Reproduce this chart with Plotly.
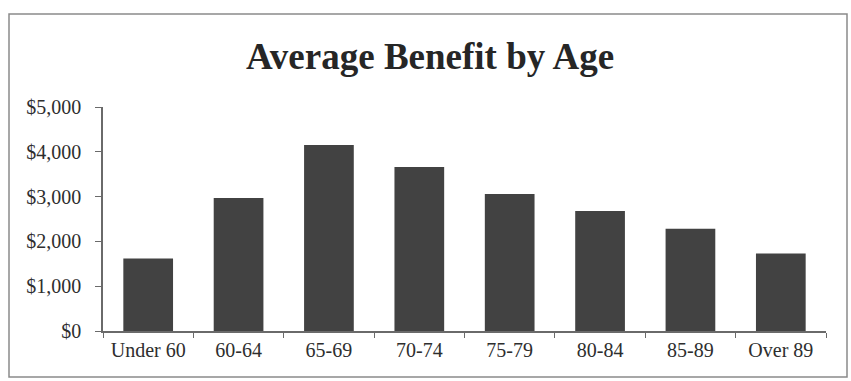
import plotly.graph_objects as go

# Average benefit per age group
age_groups = ["Under 60", "60-64", "65-69", "70-74", "75-79", "80-84", "85-89", "Over 89"]
avg_benefit = [1620, 2970, 4150, 3660, 3060, 2680, 2280, 1730]
y_tick_values = [0, 1000, 2000, 3000, 4000, 5000]
y_tick_labels = ["$0", "$1,000", "$2,000", "$3,000", "$4,000", "$5,000"]

W, H = 851, 381
ML, MR, MT, MB = 103, 25, 107, 50
plot_w = W - ML - MR
plot_h = H - MT - MB

FONT = "Liberation Serif, Times New Roman, serif"
TEXT = "#2e2e2e"
AXIS = "#6a6a6a"

fig = go.Figure(
    go.Bar(
        x=age_groups,
        y=avg_benefit,
        marker=dict(color="#424242", line=dict(width=0)),
        width=0.55,
        hoverinfo="x+y",
    )
)


def px_to_paper_x(px):
    return (px - ML) / plot_w


def px_to_paper_y(py):
    return (H - MB - py) / plot_h


# Outer frame around the whole chart
fig.add_shape(
    type="rect",
    xref="paper", yref="paper",
    x0=px_to_paper_x(9), x1=px_to_paper_x(847),
    y0=px_to_paper_y(377), y1=px_to_paper_y(14),
    line=dict(color="#8a8a8a", width=1.5),
    fillcolor="rgba(0,0,0,0)",
    layer="below",
)

fig.update_layout(
    width=W,
    height=H,
    margin=dict(l=ML, r=MR, t=MT, b=MB),
    paper_bgcolor="white",
    plot_bgcolor="white",
    showlegend=False,
    font=dict(family=FONT, color=TEXT, size=20),
    title=dict(
        text="<b>Average Benefit by Age</b>",
        font=dict(family=FONT, size=37, color="#262626"),
        xref="container",
        x=430 / W,
        xanchor="center",
        yref="container",
        y=1 - 56 / H,
        yanchor="middle",
    ),
    xaxis=dict(
        type="category",
        showgrid=False,
        showline=True,
        linecolor=AXIS,
        linewidth=1.5,
        ticks="outside",
        tickson="boundaries",
        ticklen=5,
        tickcolor=AXIS,
        tickwidth=1.2,
        tickfont=dict(family=FONT, size=20, color=TEXT),
        range=[-0.5, len(age_groups) - 0.5],
        fixedrange=True,
    ),
    yaxis=dict(
        range=[0, 5000],
        tickvals=y_tick_values,
        ticktext=y_tick_labels,
        showgrid=False,
        zeroline=False,
        showline=True,
        linecolor=AXIS,
        linewidth=1.5,
        ticks="outside",
        ticklen=6,
        tickcolor=AXIS,
        tickwidth=1.2,
        ticklabelstandoff=10,
        tickfont=dict(family=FONT, size=20, color=TEXT),
        fixedrange=True,
    ),
)

fig.write_html("out.html")
